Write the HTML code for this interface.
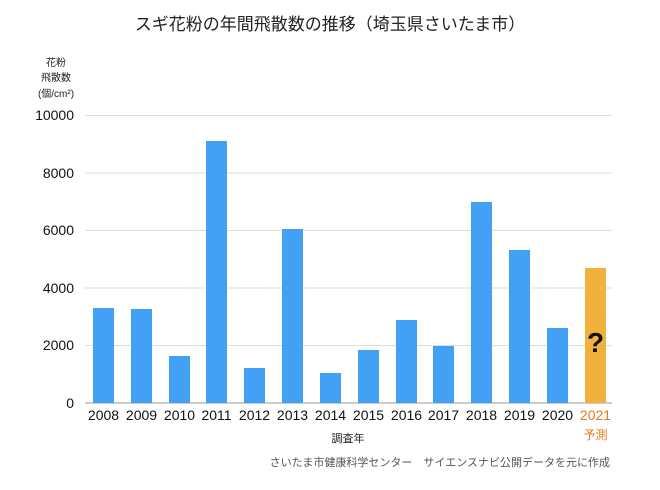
<!DOCTYPE html><html><head><meta charset="utf-8"><style>body{margin:0;background:#fff}svg{display:block;font-family:"Liberation Sans","Noto Sans CJK JP",sans-serif}</style></head><body>
<svg width="660" height="490" xmlns="http://www.w3.org/2000/svg">
<text x="330" y="30" font-size="17" text-anchor="middle" fill="#222">スギ花粉の年間飛散数の推移（埼玉県さいたま市）</text>
<g font-size="10" fill="#222" text-anchor="middle"><text x="56" y="66">花粉</text><text x="56" y="81">飛散数</text><text x="56" y="97">(個/cm²)</text></g>
<g stroke="#ddd" stroke-width="1"><line x1="85" x2="612" y1="115.5" y2="115.5"/><line x1="85" x2="612" y1="173" y2="173"/><line x1="85" x2="612" y1="230.5" y2="230.5"/><line x1="85" x2="612" y1="288" y2="288"/><line x1="85" x2="612" y1="345.5" y2="345.5"/></g>
<line x1="85" x2="612" y1="403" y2="403" stroke="#999"/>
<g font-size="14" fill="#111" text-anchor="end"><text x="74" y="120">10000</text><text x="74" y="178">8000</text><text x="74" y="235">6000</text><text x="74" y="293">4000</text><text x="74" y="350">2000</text><text x="74" y="408">0</text></g>
<g fill="#42a1f5">
<rect x="93" y="308" width="21" height="95"/><rect x="131" y="309" width="21" height="94"/><rect x="169" y="356" width="21" height="47"/><rect x="206" y="141" width="21" height="262"/><rect x="244" y="368" width="21" height="35"/><rect x="282" y="229" width="21" height="174"/><rect x="320" y="373" width="21" height="30"/><rect x="358" y="350" width="21" height="53"/><rect x="396" y="320" width="21" height="83"/><rect x="433" y="346" width="21" height="57"/><rect x="471" y="202" width="21" height="201"/><rect x="509" y="250" width="21" height="153"/><rect x="547" y="328" width="21" height="75"/></g>
<rect x="585" y="268" width="21" height="135" fill="#f2b13c"/>
<text x="595.5" y="352" font-size="28" font-weight="bold" text-anchor="middle" fill="#111">?</text>
<g font-size="14" fill="#111" text-anchor="middle"><text x="103.5" y="420">2008</text><text x="141.5" y="420">2009</text><text x="179.5" y="420">2010</text><text x="216.5" y="420">2011</text><text x="254.5" y="420">2012</text><text x="292.5" y="420">2013</text><text x="330.5" y="420">2014</text><text x="368.5" y="420">2015</text><text x="406.5" y="420">2016</text><text x="443.5" y="420">2017</text><text x="481.5" y="420">2018</text><text x="519.5" y="420">2019</text><text x="557.5" y="420">2020</text></g>
<text x="595.5" y="420" font-size="14" fill="#e8781a" text-anchor="middle">2021</text>
<text x="595.5" y="439" font-size="12" fill="#e8781a" text-anchor="middle">予測</text>
<text x="348" y="442" font-size="11" fill="#222" text-anchor="middle">調査年</text>
<text x="610" y="466" font-size="11" fill="#555" text-anchor="end">さいたま市健康科学センター　サイエンスナビ公開データを元に作成</text>
</svg></body></html>
